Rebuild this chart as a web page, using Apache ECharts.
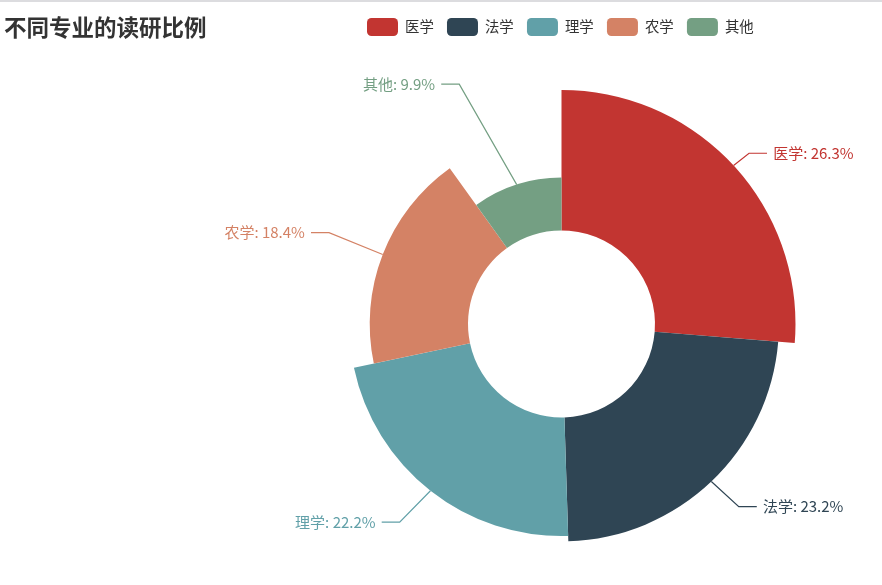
<!DOCTYPE html>
<html>
<head>
<meta charset="utf-8">
<script src="https://cdn.jsdelivr.net/npm/echarts@6/dist/echarts.min.js"></script>
<style>
html,body{margin:0;padding:0;background:#fff;}
#topline{position:absolute;left:0;top:0;width:882px;height:2px;background:#dcdcdf;}
#chart{position:absolute;left:0;top:0;width:882px;height:585px;}
</style>
</head>
<body>
<div id="chart"></div>
<div id="topline"></div>
<script>
const titleText = '不同专业的读研比例';
const categories = ['医学', '法学', '理学', '农学', '其他'];
const values = [26.3, 23.2, 22.2, 18.4, 9.9];
const colors = ['#c23531', '#2f4554', '#61a0a8', '#d48265', '#749f83'];

const CX = 561.5, CY = 324, R0 = 93.5, R = 234, LEN = 18, LEN2 = 18, GAP = 3.6, TXT = 2.5;
const chart = echarts.init(document.getElementById('chart'), null, {renderer: 'canvas'});
const fontFam = '"Noto Sans CJK SC", "Noto Sans", sans-serif';
chart.setOption({
  animation: false,
  color: colors,
  title: {
    text: titleText,
    left: 0,
    top: 10,
    padding: [6, 4],
    textStyle: {fontSize: 22.5, fontWeight: 'bold', color: '#333', fontFamily: fontFam}
  },
  legend: {
    data: categories,
    left: 367,
    top: 18,
    padding: 0,
    itemWidth: 31,
    itemHeight: 18,
    itemGap: 13.2,
    icon: 'roundRect',
    textStyle: {fontSize: 14.4, color: '#333', fontFamily: fontFam, padding: [0, 0, 0, 2]}
  },
  series: [{
    type: 'pie',
    roseType: 'radius',
    center: [CX, CY],
    radius: [R0, R],
    startAngle: 90,
    label: {
      formatter: '{b}: {d}%',
      fontSize: 15,
      fontFamily: fontFam,
      distanceToLabelLine: 6
    },
    labelLine: {length: LEN, length2: LEN2, lineStyle: {width: 1.2}},
    labelLayout: function (p) {
      const pts = p.labelLinePoints;
      if (!pts) return {};
      const y = pts[1][1];
      const dir = pts[2][0] < pts[1][0] ? -1 : 1;
      const dy = Math.abs(y - CY);
      const full = R + LEN + LEN2;
      const dx = dy < R + LEN ? Math.sqrt(full * full - dy * dy) : Math.abs(pts[2][0] - CX);
      const lx = CX + dir * dx;
      const x3 = lx - dir * GAP;
      const x2 = x3 - dir * LEN2;
      return {
        x: lx + dir * TXT, y: y,
        align: dir > 0 ? 'left' : 'right',
        verticalAlign: 'middle',
        labelLinePoints: [pts[0], [x2, y], [x3, y]]
      };
    },
    data: categories.map((c, i) => ({
      name: c, value: values[i],
      label: {color: colors[i]}
    }))
  }]
});
</script>
</body>
</html>
